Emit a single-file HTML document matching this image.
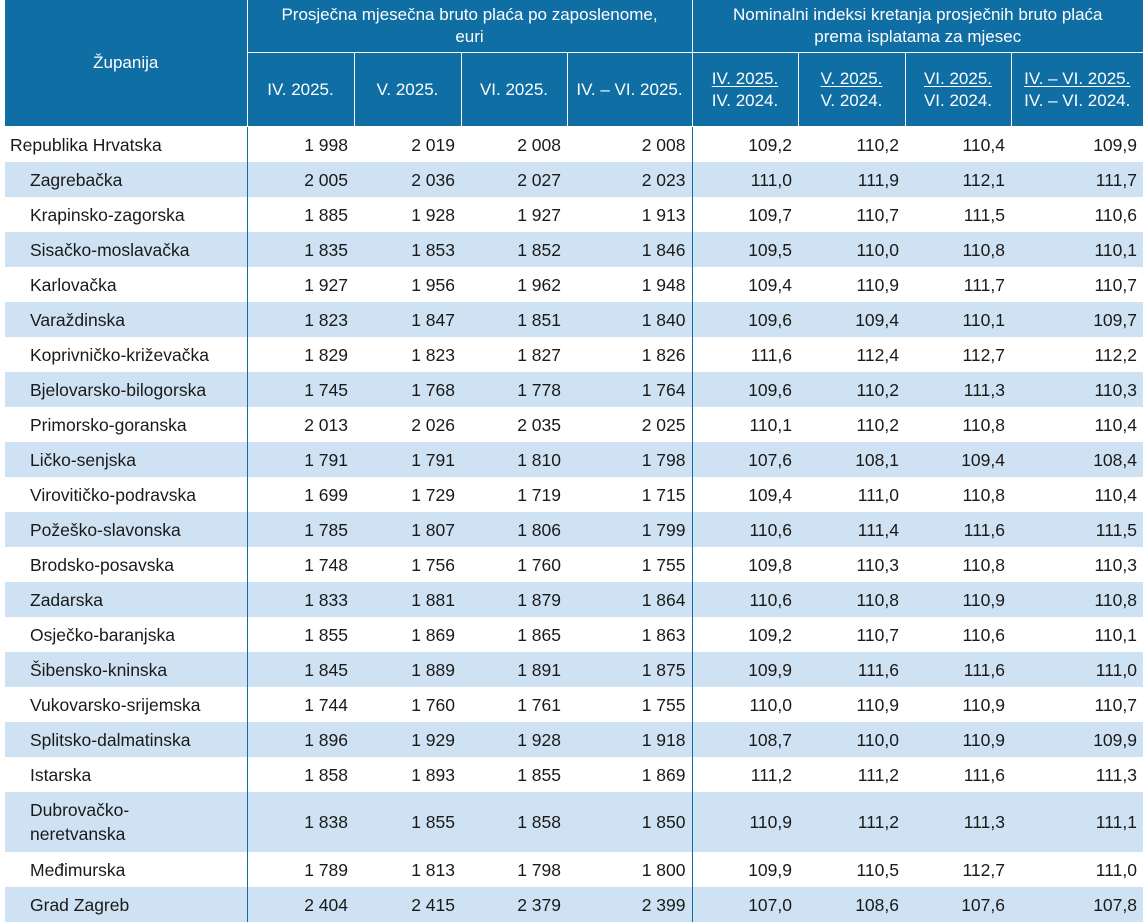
<!DOCTYPE html>
<html><head><meta charset="utf-8"><style>
html,body{margin:0;padding:0;background:#fff;width:1143px;height:924px;overflow:hidden}
table{position:absolute;left:5px;top:0;border-collapse:collapse;table-layout:fixed;font-family:"Liberation Sans",sans-serif;font-size:17.5px;color:#1a1a1a}
th{background:#0f6ea4;color:#fff;font-weight:normal;font-size:17px;line-height:22px;border:1px solid #fff;border-top:none;padding:0}
th.h1{height:52px}
th.h2{height:73px}
td{height:35px;padding:1px 6px 0 0;text-align:right;line-height:20px;white-space:nowrap;box-sizing:border-box}
td.n{text-align:left;padding-left:25px}
td.r{padding-left:5px}
tr.s td{background:#cfe2f3}
td.b{border-left:1.5px solid #0f6ea4}
u{text-decoration:underline;text-underline-offset:2px}
</style></head><body>
<table>
<colgroup><col style="width:242px"><col style="width:107px"><col style="width:107px"><col style="width:106px"><col style="width:125px"><col style="width:106px"><col style="width:107px"><col style="width:106px"><col style="width:132px"></colgroup>
<tr><th rowspan="2" class="h1" style="border-left:none">Županija</th><th colspan="4" class="h1">Prosječna mjesečna bruto plaća po zaposlenome,<br>euri</th><th colspan="4" class="h1" style="border-right:none">Nominalni indeksi kretanja prosječnih bruto plaća<br>prema isplatama za mjesec</th></tr>
<tr><th class="h2">IV. 2025.</th><th class="h2">V. 2025.</th><th class="h2">VI. 2025.</th><th class="h2">IV. – VI. 2025.</th><th class="h2"><u>IV. 2025.</u><br>IV. 2024.</th><th class="h2"><u>V. 2025.</u><br>V. 2024.</th><th class="h2"><u>VI. 2025.</u><br>VI. 2024.</th><th class="h2" style="border-right:none"><u>IV. – VI. 2025.</u><br>IV. – VI. 2024.</th></tr>
<tr><td class="n r">Republika Hrvatska</td><td class="b">1 998</td><td>2 019</td><td>2 008</td><td>2 008</td><td class="b">109,2</td><td>110,2</td><td>110,4</td><td>109,9</td></tr>
<tr class="s"><td class="n">Zagrebačka</td><td class="b">2 005</td><td>2 036</td><td>2 027</td><td>2 023</td><td class="b">111,0</td><td>111,9</td><td>112,1</td><td>111,7</td></tr>
<tr><td class="n">Krapinsko-zagorska</td><td class="b">1 885</td><td>1 928</td><td>1 927</td><td>1 913</td><td class="b">109,7</td><td>110,7</td><td>111,5</td><td>110,6</td></tr>
<tr class="s"><td class="n">Sisačko-moslavačka</td><td class="b">1 835</td><td>1 853</td><td>1 852</td><td>1 846</td><td class="b">109,5</td><td>110,0</td><td>110,8</td><td>110,1</td></tr>
<tr><td class="n">Karlovačka</td><td class="b">1 927</td><td>1 956</td><td>1 962</td><td>1 948</td><td class="b">109,4</td><td>110,9</td><td>111,7</td><td>110,7</td></tr>
<tr class="s"><td class="n">Varaždinska</td><td class="b">1 823</td><td>1 847</td><td>1 851</td><td>1 840</td><td class="b">109,6</td><td>109,4</td><td>110,1</td><td>109,7</td></tr>
<tr><td class="n">Koprivničko-križevačka</td><td class="b">1 829</td><td>1 823</td><td>1 827</td><td>1 826</td><td class="b">111,6</td><td>112,4</td><td>112,7</td><td>112,2</td></tr>
<tr class="s"><td class="n">Bjelovarsko-bilogorska</td><td class="b">1 745</td><td>1 768</td><td>1 778</td><td>1 764</td><td class="b">109,6</td><td>110,2</td><td>111,3</td><td>110,3</td></tr>
<tr><td class="n">Primorsko-goranska</td><td class="b">2 013</td><td>2 026</td><td>2 035</td><td>2 025</td><td class="b">110,1</td><td>110,2</td><td>110,8</td><td>110,4</td></tr>
<tr class="s"><td class="n">Ličko-senjska</td><td class="b">1 791</td><td>1 791</td><td>1 810</td><td>1 798</td><td class="b">107,6</td><td>108,1</td><td>109,4</td><td>108,4</td></tr>
<tr><td class="n">Virovitičko-podravska</td><td class="b">1 699</td><td>1 729</td><td>1 719</td><td>1 715</td><td class="b">109,4</td><td>111,0</td><td>110,8</td><td>110,4</td></tr>
<tr class="s"><td class="n">Požeško-slavonska</td><td class="b">1 785</td><td>1 807</td><td>1 806</td><td>1 799</td><td class="b">110,6</td><td>111,4</td><td>111,6</td><td>111,5</td></tr>
<tr><td class="n">Brodsko-posavska</td><td class="b">1 748</td><td>1 756</td><td>1 760</td><td>1 755</td><td class="b">109,8</td><td>110,3</td><td>110,8</td><td>110,3</td></tr>
<tr class="s"><td class="n">Zadarska</td><td class="b">1 833</td><td>1 881</td><td>1 879</td><td>1 864</td><td class="b">110,6</td><td>110,8</td><td>110,9</td><td>110,8</td></tr>
<tr><td class="n">Osječko-baranjska</td><td class="b">1 855</td><td>1 869</td><td>1 865</td><td>1 863</td><td class="b">109,2</td><td>110,7</td><td>110,6</td><td>110,1</td></tr>
<tr class="s"><td class="n">Šibensko-kninska</td><td class="b">1 845</td><td>1 889</td><td>1 891</td><td>1 875</td><td class="b">109,9</td><td>111,6</td><td>111,6</td><td>111,0</td></tr>
<tr><td class="n">Vukovarsko-srijemska</td><td class="b">1 744</td><td>1 760</td><td>1 761</td><td>1 755</td><td class="b">110,0</td><td>110,9</td><td>110,9</td><td>110,7</td></tr>
<tr class="s"><td class="n">Splitsko-dalmatinska</td><td class="b">1 896</td><td>1 929</td><td>1 928</td><td>1 918</td><td class="b">108,7</td><td>110,0</td><td>110,9</td><td>109,9</td></tr>
<tr><td class="n">Istarska</td><td class="b">1 858</td><td>1 893</td><td>1 855</td><td>1 869</td><td class="b">111,2</td><td>111,2</td><td>111,6</td><td>111,3</td></tr>
<tr class="s"><td class="n" style="height:60px;line-height:24px">Dubrovačko-<br>neretvanska</td><td class="b">1 838</td><td>1 855</td><td>1 858</td><td>1 850</td><td class="b">110,9</td><td>111,2</td><td>111,3</td><td>111,1</td></tr>
<tr><td class="n">Međimurska</td><td class="b">1 789</td><td>1 813</td><td>1 798</td><td>1 800</td><td class="b">109,9</td><td>110,5</td><td>112,7</td><td>111,0</td></tr>
<tr class="s"><td class="n">Grad Zagreb</td><td class="b">2 404</td><td>2 415</td><td>2 379</td><td>2 399</td><td class="b">107,0</td><td>108,6</td><td>107,6</td><td>107,8</td></tr>
</table>
</body></html>
